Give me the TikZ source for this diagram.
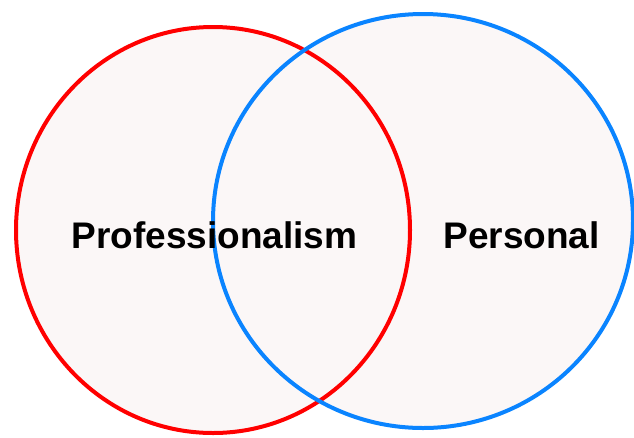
\documentclass[tikz,border=0pt]{standalone}
\usepackage{fontspec}
\setmainfont{Liberation Sans}
\definecolor{setfill}{HTML}{FBF7F7}
\definecolor{profred}{HTML}{FF0000}
\definecolor{persblue}{HTML}{0A84FF}
\begin{document}
\begin{tikzpicture}[x=1pt,y=-1pt,
  setline/.style={line width=4pt},
  setlabel/.style={font=\fontsize{37}{41}\selectfont\bfseries, text=black, inner sep=0pt}]
\useasboundingbox (0,0) rectangle (634,437);
% filled sets
\fill[setfill] (213,230) ellipse [x radius=197, y radius=203];
\fill[setfill] (423,221) ellipse [x radius=210, y radius=207];
% outlines
\draw[setline, profred] (213,230) ellipse [x radius=197, y radius=203];
\draw[setline, persblue] (423,221) ellipse [x radius=210, y radius=207];
% labels
\node[setlabel] (prof) at (214.5,235) {Professionalism};
\node[setlabel] (pers) at (521.5,235) {Personal};
\end{tikzpicture}
\end{document}
